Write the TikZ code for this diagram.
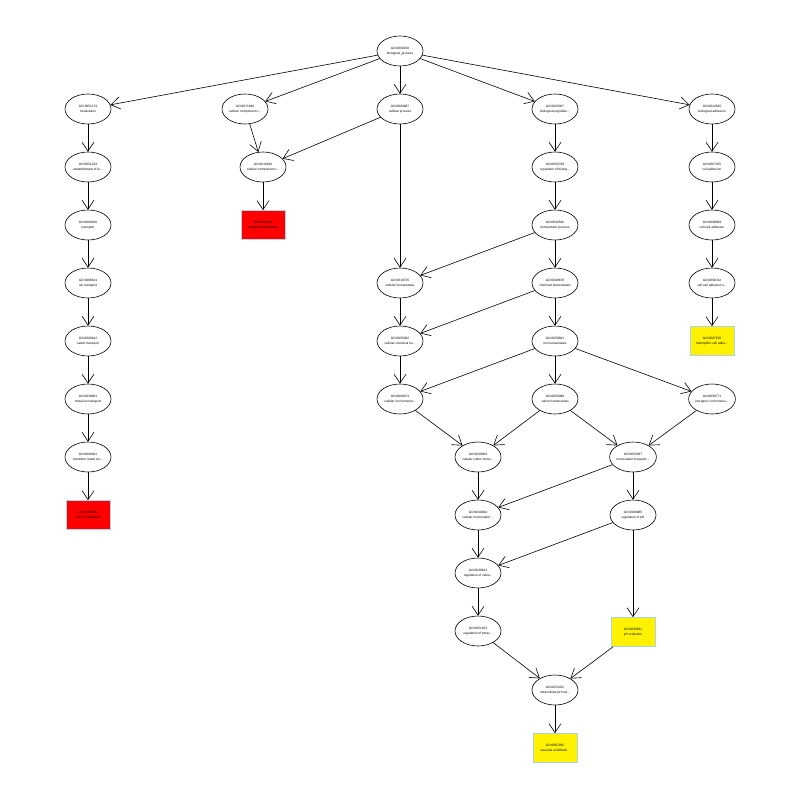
\documentclass[tikz,border=0pt]{standalone}
\usepackage{fontspec}
\setmainfont{Liberation Sans}
\usetikzlibrary{shapes.geometric, positioning, arrows.meta}

\definecolor{boxline}{RGB}{175,210,235}

\tikzset{
	goterm/.style={ellipse, draw, line width=0.6pt, minimum width=46pt, minimum height=30pt,
		inner sep=0pt, align=center, font=\fontsize{3.2}{4.8}\selectfont},
	sigbox/.style={rectangle, draw=boxline, line width=0.6pt, minimum width=44pt, minimum height=29pt,
		inner sep=0pt, align=center, font=\fontsize{3.2}{4.8}\selectfont},
	redbox/.style={sigbox, fill=red},
	yellowbox/.style={sigbox, fill=yellow},
	golink/.style={-{Straight Barb[length=9pt, width=12pt]}, line width=0.6pt}
}

\begin{document}
\begin{tikzpicture}[x=1pt, y=1pt, node distance=58pt]
				\useasboundingbox (0,0) rectangle (800,-800);
				% root and its children
				\node[goterm] (bp) at (400,-51) {GO:0008150\\biological\_process};
				\node[goterm] (loc) at (88,-109) {GO:0051179\\localization};
				\node[goterm] (ccob) at (245,-109) {GO:0071840\\cellular component o...};
				\node[goterm, below of=bp] (cp) {GO:0009987\\cellular process};
				\node[goterm] (breg) at (555,-109) {GO:0065007\\biological regulatio...};
				\node[goterm] (badh) at (712,-109) {GO:0022610\\biological adhesion};
				% localization branch
				\node[goterm, below of=loc] (estloc) {GO:0051234\\establishment of lo...};
				\node[goterm, below of=estloc] (tra) {GO:0006810\\transport};
				\node[goterm, below of=tra] (iont) {GO:0006811\\ion transport};
				\node[goterm, below of=iont] (catt) {GO:0006812\\cation transport};
				\node[goterm, below of=catt] (mett) {GO:0030001\\metal ion transport};
				\node[goterm, below of=mett] (trmet) {GO:0000041\\transition metal ion...};
				\node[redbox, below of=trmet] (iron) {GO:0006826\\iron ion transport};
				% organization branch
				\node[goterm] (cco) at (263,-167) {GO:0016043\\cellular component o...};
				\node[redbox, below of=cco] (syn) {GO:0050808\\synapse organization};
				% regulation branch
				\node[goterm, below of=breg] (rbp) {GO:0050789\\regulation of biolog...};
				\node[goterm, below of=rbp] (hom) {GO:0042592\\homeostatic process};
				\node[goterm, below of=hom] (chem) {GO:0048878\\chemical homeostasis};
				\node[goterm, below of=chem] (ionh) {GO:0050801\\ion homeostasis};
				\node[goterm, below of=ionh] (cath) {GO:0055080\\cation homeostasis};
				\node[goterm] (cellh) at (400,-283) {GO:0019725\\cellular homeostasis};
				\node[goterm, below of=cellh] (cchem) {GO:0055082\\cellular chemical ho...};
				\node[goterm, below of=cchem] (cion) {GO:0006873\\cellular ion homeost...};
				\node[goterm] (inorg) at (712,-399) {GO:0098771\\inorganic ion homeos...};
				\node[goterm] (ccat) at (478,-457) {GO:0030003\\cellular cation home...};
				\node[goterm] (mono) at (633,-457) {GO:0055067\\monovalent inorganic...};
				\node[goterm, below of=ccat] (cmono) {GO:0030004\\cellular monovalent ...};
				\node[goterm, below of=mono] (rph) {GO:0006885\\regulation of pH};
				\node[goterm, below of=cmono] (rcph) {GO:0030641\\regulation of cellul...};
				\node[goterm, below of=rcph] (riph) {GO:0051453\\regulation of intrac...};
				\node[yellowbox] (phred) at (633,-632) {GO:0045851\\pH reduction};
				\node[goterm] (iphred) at (555,-690) {GO:0051452\\intracellular pH red...};
				\node[yellowbox, below of=iphred] (vac) {GO:0007035\\vacuolar acidificati...};
				% adhesion branch
				\node[goterm, below of=badh] (cadh) {GO:0007155\\cell adhesion};
				\node[goterm, below of=cadh] (ccadh) {GO:0098609\\cell-cell adhesion};
				\node[goterm, below of=ccadh] (ccadhv) {GO:0098742\\cell-cell adhesion v...};
				\node[yellowbox, below of=ccadhv] (homph) {GO:0007156\\homophilic cell adhe...};

				\path[golink] (bp) edge (loc)
					(bp) edge (ccob)
					(bp) edge (cp)
					(bp) edge (breg)
					(bp) edge (badh)
					(loc) edge (estloc)
					(estloc) edge (tra)
					(tra) edge (iont)
					(iont) edge (catt)
					(catt) edge (mett)
					(mett) edge (trmet)
					(trmet) edge (iron)
					(ccob) edge (cco)
					(cp) edge (cco)
					(cco) edge (syn)
					(cp) edge (cellh)
					(breg) edge (rbp)
					(rbp) edge (hom)
					(hom) edge (cellh)
					(hom) edge (chem)
					(chem) edge (cchem)
					(chem) edge (ionh)
					(cellh) edge (cchem)
					(cchem) edge (cion)
					(ionh) edge (cion)
					(ionh) edge (cath)
					(ionh) edge (inorg)
					(cion) edge (ccat)
					(cath) edge (ccat)
					(cath) edge (mono)
					(inorg) edge (mono)
					(ccat) edge (cmono)
					(mono) edge (cmono)
					(mono) edge (rph)
					(cmono) edge (rcph)
					(rph) edge (rcph)
					(rph) edge (phred)
					(rcph) edge (riph)
					(riph) edge (iphred)
					(phred) edge (iphred)
					(iphred) edge (vac)
					(badh) edge (cadh)
					(cadh) edge (ccadh)
					(ccadh) edge (ccadhv)
					(ccadhv) edge (homph);
			\end{tikzpicture}
\end{document}
